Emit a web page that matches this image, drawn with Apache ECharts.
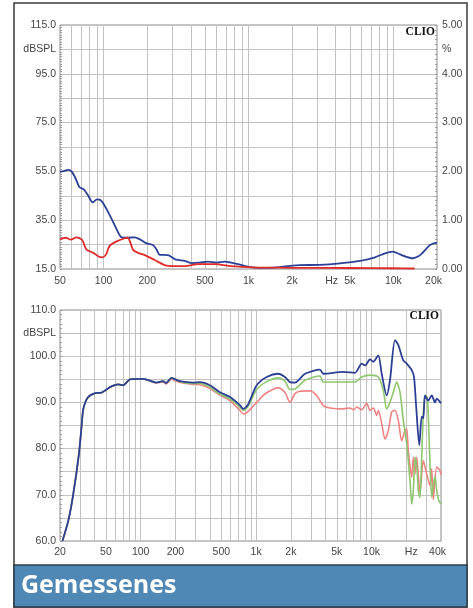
<!DOCTYPE html>
<html><head><meta charset="utf-8">
<script src="https://cdn.jsdelivr.net/npm/echarts@6/dist/echarts.min.js"></script>
<style>html,body{margin:0;padding:0;background:#fff}#c{width:473px;height:608px}</style>
</head><body><div id="c"></div>
<script>
// ---------- top chart ----------
const topXTicks = [50,60,70,80,90,100,200,300,400,500,600,700,800,900,1000,2000,3000,4000,5000,6000,7000,8000,9000,10000,20000];
const topXLabels = [50,100,200,500,1000,2000,5000,10000,20000];
const topYTicks = [15,25,35,45,55,65,75,85,95,105,115];
const topYLabels = [15,35,55,75,95,105,115];
const topRightLabels = [0,1,2,3,4,4.5,5];

const topBlueFreq = [50,53,57,60,64,68,73,78,84,90,95,100,110,120,132,145,164,180,196,219,232,244,278,300,316,363,406,460,525,600,685,760,846,950,1100,1300,1500,1700,1934,2266,3116,4277,5887,7466,8750,9930,11110,12300,13660,15000,15770,17000,17900,19000,20000];
const topBlueDb = [54.8,55.1,55.6,55.0,52.2,48.6,47.6,45.2,42.3,43.5,43.3,41.6,37.2,32.6,28.1,27.8,28.0,27.0,25.6,24.8,23.0,20.8,20.7,19.6,18.8,18.3,17.4,17.6,18.0,17.6,18.0,17.6,17.0,16.2,15.6,15.5,15.6,15.9,16.3,16.6,16.7,17.3,18.3,19.8,21.4,22.1,21.0,20.0,19.4,20.3,21.4,23.5,24.8,25.5,25.8];
const topRedFreq = [50,55,59.5,65,71,76,85,93,98,104,110,122,140,147,160,175,192,225,264,310,363,448,584,757,900,1200,2000,5000,10000,14000];
const topRedDb = [27.2,27.8,27.0,28.0,27.0,23.0,21.6,20.0,19.8,21.0,24.5,26.2,27.6,27.8,22.8,21.5,20.7,18.7,16.6,16.2,16.2,17.0,17.0,16.2,15.9,15.6,15.5,15.4,15.3,15.2];

// ---------- bottom chart ----------
const botXTicks = [20,30,40,50,60,70,80,90,100,200,300,400,500,600,700,800,900,1000,2000,3000,4000,5000,6000,7000,8000,9000,10000,20000,30000,40000];
const botXLabels = [20,50,100,200,500,1000,2000,5000,10000,20000,40000];
const botYTicks = [60,65,70,75,80,85,90,95,100,105,110];
const botYLabels = [60,70,80,90,100,105,110];

const botBlueFreq = [21,23.6,26,29.2,30.9,31.8,34.7,40.3,45.8,54.3,63.9,70.5,80.8,105,137,156,166,185,218,286,327,398,485,591,724,775,850,1012,1236,1557,1779,1967,2172,2653,3578,3820,5695,7193,8223,8781,9705,10363,11450,12250,13540,14460,15970,17070,18860,20180,22300,23350,24290,25950,27220,28100,29070,31050,33230,35500,36700,40000];
const botBlueDb = [60,64.4,70,78.9,85.4,88.5,91.0,92.0,92.1,93.3,93.9,93.7,95.0,95.1,94.3,94.6,94.2,95.3,94.6,94.3,94.4,93.7,92.2,91.2,89.4,88.6,89.5,93.7,95.5,96.2,95.5,94.4,94.3,96.2,97.1,96.2,96.6,96.4,98.4,98.0,99.3,98.8,100.2,96.2,91.5,94.8,103.5,102.4,99.1,98.4,97.0,95.5,89.7,80.7,86.9,86.6,91.5,90.4,91.5,90.0,90.8,89.8];
const botGreenFreq = [21,23.6,26,29.2,30.9,31.8,34.7,40.3,45.8,54.3,63.9,70.5,80.8,105,137,156,166,185,218,286,327,398,485,591,724,775,850,1012,1236,1557,1779,1967,2172,2653,3578,3820,5695,7193,8223,9705,11450,12650,13540,14460,15450,16530,17650,18860,20180,21560,22300,23030,23820,24780,25430,26300,27220,28100,29070,30260,31050,32110,33230,34300,35500,36700,38000,40000];
const botGreenDb = [60,64.4,70,78.9,85.4,88.5,91.0,92.0,92.1,93.3,93.9,93.7,95.0,95.1,94.3,94.6,94.2,95.3,94.5,94.1,94.1,93.3,91.8,90.8,89.0,88.3,89.1,92.8,94.5,95.3,94.6,92.8,92.9,94.8,95.7,94.4,94.4,94.4,95.5,95.9,95.5,92.6,88.6,90.0,92.2,94.4,92.2,86.1,81.0,73.0,68.0,70.9,78.1,75.6,70.9,69.4,78.1,87.5,91.5,91.2,87.2,76.7,69.5,72,74,71,69,68];
const botRedFreq = [21,23.6,26,29.2,30.9,31.8,34.7,40.3,45.8,54.3,63.9,70.5,80.8,105,137,156,166,185,218,286,327,398,485,591,724,775,850,1012,1150,1300,1557,1779,1967,2172,2401,2931,3350,3820,4370,5695,6512,6955,7443,8223,9082,9705,10363,11090,11450,12250,13090,13980,14950,15970,17070,18260,19500,20180,20830,22300,23030,23820,24640,26300,28100,30060,32110,33230,34300,36700,39200,40000];
const botRedDb = [60,64.4,70,78.9,85.4,88.5,91.0,92.0,92.1,93.3,93.9,93.7,95.0,95.1,94.2,94.4,94.0,95.0,94.3,93.9,93.8,93.0,91.6,90.4,88.3,87.5,88.0,90.0,91.5,92.4,93.2,92.2,90.0,91.9,92.4,92.5,91.5,89.3,88.8,88.6,88.8,88.4,89.0,88.4,89.8,88.3,88.8,87.2,88.3,85.4,82.1,83.9,87.9,88.3,86.1,81.7,83.9,84.3,79.6,73.8,78.1,74.5,78.1,70.5,77.4,74.5,72.0,75.6,69.0,76.0,75.3,74.3];

const FONT = 'Liberation Sans';
const LBL = '#444';
const GRID = '#c2c2c2';
const lg = v => Math.log10(v);
const range = (a, b, s) => { const r = []; for (let v = a; v <= b + 1e-9; v += s) r.push(+v.toFixed(3)); return r; };
const pts = (f, d) => f.map((x, i) => [lg(x), d[i]]);
const hzText = v => { const f = Math.round(Math.pow(10, v)); return f >= 1000 ? (f / 1000) + 'k' : String(f); };

function xAxis(grid, lo, hi, ticks, labels, fmt, margin) {
  return {
    type: 'value', gridIndex: grid, min: lg(lo), max: lg(hi),
    axisLine: { show: false },
    axisTick: { show: false, customValues: ticks.map(lg) },
    splitLine: { show: true, lineStyle: { color: GRID, width: 1 } },
    axisLabel: {
      customValues: labels.map(lg), formatter: fmt, margin: margin,
      color: LBL, fontSize: 10.5, fontFamily: FONT,
      rich: {
        hz: { width: 19, align: 'left', color: LBL, fontSize: 10.5, fontFamily: FONT },
        n: { color: LBL, fontSize: 10.5, fontFamily: FONT },
        p: { width: 19 },
        hz2: { color: LBL, fontSize: 10.5, fontFamily: FONT, padding: [0, 0, 0, 10] },
        end: { color: LBL, fontSize: 10.5, fontFamily: FONT, padding: [0, 7, 0, 0] }
      }
    }
  };
}
function yAxis(grid, lo, hi, ticks, labels) {
  return {
    type: 'value', gridIndex: grid, min: lo, max: hi, position: 'left',
    axisLine: { show: false },
    axisTick: { show: false, customValues: ticks },
    splitLine: { show: true, lineStyle: { color: GRID, width: 1 } },
    axisLabel: {
      customValues: labels, margin: 4, color: LBL, fontSize: 10.5, fontFamily: FONT,
      formatter: v => Math.abs(v - 105) < 1e-6 ? 'dBSPL' : v.toFixed(1)
    }
  };
}
function minorAxis(grid, lo, hi, step, pos) {
  return {
    type: 'value', gridIndex: grid, min: lo, max: hi, position: pos,
    axisLine: { show: false },
    axisTick: { show: true, inside: true, length: 2, customValues: range(lo, hi, step), lineStyle: { color: '#9a9a9a' } },
    splitLine: { show: false }, axisLabel: { show: false }
  };
}

const chart = echarts.init(document.getElementById('c'), null, { renderer: 'canvas' });
chart.setOption({
  animation: false,
  backgroundColor: '#fff',
  grid: [
    { left: 60, top: 25, width: 377, height: 244, show: true, borderColor: '#8c8c8c', borderWidth: 1, backgroundColor: 'transparent' },
    { left: 60, top: 310, width: 381, height: 231, show: true, borderColor: '#8c8c8c', borderWidth: 1, backgroundColor: 'transparent' }
  ],
  xAxis: [
    xAxis(0, 50, 20000, topXTicks, topXLabels, v => { const t = hzText(v); return t === '5k' ? '{hz|Hz}{n|5k}{p|}' : (t === '20k' ? '{end|20k}' : t); }, 7),
    xAxis(1, 20, 40000, botXTicks, botXLabels, v => { const t = hzText(v); return t === '20k' ? '{hz2|Hz}' : (t === '40k' ? '{end|40k}' : t); }, 6)
  ],
  yAxis: [
    yAxis(0, 15, 115, topYTicks, topYLabels),
    {
      type: 'value', gridIndex: 0, min: 0, max: 5, position: 'right',
      axisLine: { show: false },
      axisTick: { show: true, inside: true, length: 2, customValues: range(0, 5, 0.1), lineStyle: { color: '#9a9a9a' } },
      splitLine: { show: false },
      axisLabel: {
        customValues: topRightLabels, margin: 5, color: LBL, fontSize: 10.5, fontFamily: FONT,
        formatter: v => Math.abs(v - 4.5) < 1e-6 ? '%' : v.toFixed(2)
      }
    },
    yAxis(1, 60, 110, botYTicks, botYLabels),
    minorAxis(0, 15, 115, 1, 'left'),
    minorAxis(1, 60, 110, 1, 'left')
  ],
  series: [
    { type: 'line', xAxisIndex: 0, yAxisIndex: 0, data: pts(topBlueFreq, topBlueDb), showSymbol: false, smooth: 0.25, lineStyle: { color: '#2c4196', width: 1.8 }, z: 3 },
    { type: 'line', xAxisIndex: 0, yAxisIndex: 0, data: pts(topRedFreq, topRedDb), showSymbol: false, smooth: 0.25, lineStyle: { color: '#e12a2a', width: 1.8 }, z: 4 },
    { type: 'line', xAxisIndex: 1, yAxisIndex: 2, data: pts(botRedFreq, botRedDb), showSymbol: false, smooth: 0.25, lineStyle: { color: '#ef8383', width: 1.6 }, z: 3 },
    { type: 'line', xAxisIndex: 1, yAxisIndex: 2, data: pts(botGreenFreq, botGreenDb), showSymbol: false, smooth: 0.25, lineStyle: { color: '#8dc66c', width: 1.6 }, z: 4 },
    { type: 'line', xAxisIndex: 1, yAxisIndex: 2, data: pts(botBlueFreq, botBlueDb), showSymbol: false, smooth: 0.25, lineStyle: { color: '#2c3f94', width: 1.8 }, z: 5 }
  ],
  graphic: [
    { type: 'rect', shape: { x: 14, y: 3, width: 453, height: 604 }, style: { fill: 'none', stroke: '#3a3a3a', lineWidth: 1.5 }, z: 10 },
    { type: 'rect', shape: { x: 14, y: 565, width: 453, height: 42 }, style: { fill: '#5088b5', stroke: '#2e3b48', lineWidth: 1.5 }, z: 10 },
    { type: 'text', x: 21, y: 586, style: { text: 'Gemessenes', fill: '#fff', font: 'bold 25px "Open Sans"', verticalAlign: 'middle' }, z: 11 },
    { type: 'text', right: 38, top: 26, style: { text: 'CLIO', fill: '#111', font: 'bold 11.5px "Liberation Serif"' }, z: 11 },
    { type: 'text', right: 34, top: 310, style: { text: 'CLIO', fill: '#111', font: 'bold 11.5px "Liberation Serif"' }, z: 11 }
  ]
});
</script></body></html>
